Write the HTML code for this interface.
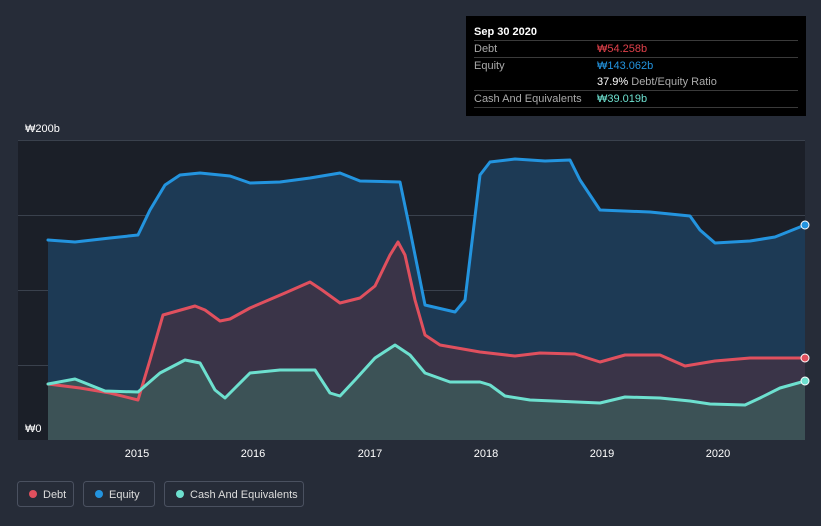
<!DOCTYPE html>
<html><head><meta charset="utf-8"><style>
body{margin:0;background:#262c38;font-family:"Liberation Sans",sans-serif;}
svg{display:block}
</style></head><body>
<svg width="821" height="526" viewBox="0 0 821 526" xmlns="http://www.w3.org/2000/svg" font-family="Liberation Sans, sans-serif">
<rect width="821" height="526" fill="#262c38"/>
<rect x="18" y="140" width="787" height="300" fill="#1b1f28"/>
<g stroke="#3a414d" stroke-width="1">
<line x1="18" y1="140.5" x2="805" y2="140.5"/><line x1="18" y1="215.5" x2="805" y2="215.5"/>
<line x1="18" y1="290.5" x2="805" y2="290.5"/><line x1="18" y1="365.5" x2="805" y2="365.5"/>
</g>
<text x="25" y="132" fill="#fff" font-size="11">₩200b</text>
<text x="25" y="432" fill="#fff" font-size="11">₩0</text>
<polygon fill="#1d3a55" points="48,240 75,242 110,238 138,235 150,210 165,185 180,175 200,173 230,176 250,183 280,182 310,178 340,173 360,181 400,182 410,230 425,305 455,312 465,300 480,175 490,162 515,159 545,161 570,160 580,180 600,210 650,212 690,216 700,230 715,243 750,241 775,237 805,225 805,440 48,440"/>
<polygon fill="#3e3447" fill-opacity="0.9" points="48,384 80,388 110,393 138,400 150,360 163,315 195,306 205,310 220,321 230,319 250,308 285,293 310,282 322,290 340,303 360,298 375,286 390,255 398,242 405,255 415,300 425,335 440,345 480,352 515,356 540,353 575,354 600,362 625,355 660,355 685,366 715,361 750,358 805,358 805,440 48,440"/>
<polygon fill="#3d5558" fill-opacity="0.9" points="48,384 75,379 85,383 105,391 138,392 160,373 185,360 200,363 215,390 225,398 235,388 250,373 280,370 315,370 330,393 340,396 355,380 375,358 395,345 410,355 425,373 450,382 480,382 490,385 505,396 530,400 600,403 625,397 660,398 690,401 710,404 745,405 760,398 780,388 805,381 805,440 48,440"/>
<g fill="none" stroke-width="3" stroke-linejoin="round" stroke-linecap="round">
<polyline stroke="#2394df" points="48,240 75,242 110,238 138,235 150,210 165,185 180,175 200,173 230,176 250,183 280,182 310,178 340,173 360,181 400,182 410,230 425,305 455,312 465,300 480,175 490,162 515,159 545,161 570,160 580,180 600,210 650,212 690,216 700,230 715,243 750,241 775,237 805,225"/>
<polyline stroke="#e0505e" points="48,384 80,388 110,393 138,400 150,360 163,315 195,306 205,310 220,321 230,319 250,308 285,293 310,282 322,290 340,303 360,298 375,286 390,255 398,242 405,255 415,300 425,335 440,345 480,352 515,356 540,353 575,354 600,362 625,355 660,355 685,366 715,361 750,358 805,358"/>
<polyline stroke="#6de0cf" points="48,384 75,379 85,383 105,391 138,392 160,373 185,360 200,363 215,390 225,398 235,388 250,373 280,370 315,370 330,393 340,396 355,380 375,358 395,345 410,355 425,373 450,382 480,382 490,385 505,396 530,400 600,403 625,397 660,398 690,401 710,404 745,405 760,398 780,388 805,381"/>
</g>
<circle cx="805" cy="225" r="4" fill="#2394df" stroke="#fff" stroke-width="1"/>
<circle cx="805" cy="358" r="4" fill="#e0505e" stroke="#fff" stroke-width="1"/>
<circle cx="805" cy="381" r="4" fill="#6de0cf" stroke="#fff" stroke-width="1"/>
<g fill="#fff" font-size="11" text-anchor="middle">
<text x="137" y="457">2015</text><text x="253" y="457">2016</text><text x="370" y="457">2017</text>
<text x="486" y="457">2018</text><text x="602" y="457">2019</text><text x="718" y="457">2020</text>
</g>
<rect x="466" y="16" width="340" height="100" fill="#000"/>
<text x="474" y="35" fill="#fff" font-size="11" font-weight="bold">Sep 30 2020</text>
<g stroke="#3a3a3a"><line x1="474" y1="40.5" x2="798" y2="40.5"/><line x1="474" y1="57.5" x2="798" y2="57.5"/><line x1="474" y1="90.5" x2="798" y2="90.5"/><line x1="474" y1="107.5" x2="798" y2="107.5"/></g>
<g font-size="11">
<text x="474" y="52" fill="#aaa">Debt</text><text x="597" y="52" fill="#e0404a">₩54.258b</text>
<text x="474" y="69" fill="#aaa">Equity</text><text x="597" y="69" fill="#2394df">₩143.062b</text>
<text x="597" y="85" fill="#fff">37.9% <tspan fill="#aaa">Debt/Equity Ratio</tspan></text>
<text x="474" y="102" fill="#aaa">Cash And Equivalents</text><text x="597" y="102" fill="#6de0cf">₩39.019b</text>
</g>
<g fill="none" stroke="#4a5160"><rect x="17.5" y="481.5" width="56" height="25" rx="3"/><rect x="83.5" y="481.5" width="71" height="25" rx="3"/><rect x="164.5" y="481.5" width="139" height="25" rx="3"/></g>
<circle cx="33" cy="494" r="4" fill="#e0505e"/><circle cx="99" cy="494" r="4" fill="#2394df"/><circle cx="180" cy="494" r="4" fill="#6de0cf"/>
<g fill="#ddd" font-size="11"><text x="43" y="498">Debt</text><text x="109" y="498">Equity</text><text x="190" y="498">Cash And Equivalents</text></g>
</svg>
</body></html>
